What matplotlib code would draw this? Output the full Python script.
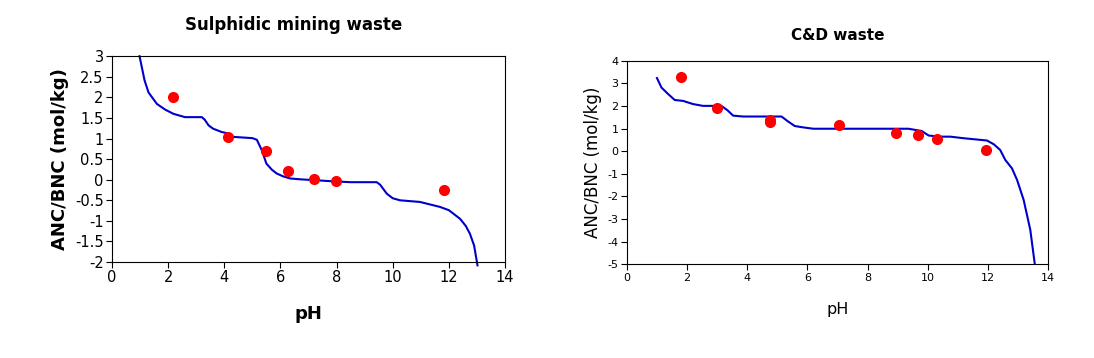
import numpy as np
import matplotlib
matplotlib.use('Agg')
import matplotlib.pyplot as plt

plt.rcParams['axes.unicode_minus'] = False

# Sulphidic mining waste: measured points and model curve
mine_ph = [2.19, 4.14, 5.48, 6.27, 7.21, 7.97, 11.84]
mine_anc = [2.02, 1.03, 0.69, 0.21, 0.02, -0.02, -0.25]
mine_curve_ph = [0.98, 1.16, 1.3, 1.6, 1.9, 2.19, 2.6, 3.2, 3.3, 3.44, 3.6, 3.9, 4.1, 4.33,
                 5.0, 5.16, 5.34, 5.5, 5.7, 5.87, 6.1, 6.35, 6.7, 7.9, 8.5, 9.43, 9.55,
                 9.79, 10.0, 10.26, 10.97, 11.68, 12.0, 12.4, 12.6, 12.75, 12.9, 13.02]
mine_curve_anc = [3.0, 2.41, 2.12, 1.84, 1.7, 1.6, 1.52, 1.52, 1.46, 1.32, 1.24, 1.16, 1.13, 1.04,
                  1.01, 0.97, 0.71, 0.39, 0.24, 0.15, 0.08, 0.03, 0.01, -0.04, -0.06, -0.06, -0.12,
                  -0.34, -0.45, -0.5, -0.54, -0.66, -0.74, -0.95, -1.12, -1.31, -1.6, -2.08]

# C&D waste: measured points and model curve
cd_ph = [1.81, 2.99, 4.76, 4.76, 7.05, 8.96, 9.68, 10.30, 11.95]
cd_anc = [3.28, 1.92, 1.28, 1.38, 1.16, 0.80, 0.73, 0.52, 0.05]
cd_curve_ph = [1.0, 1.15, 1.35, 1.59, 1.87, 2.2, 2.53, 3.14, 3.35, 3.53, 3.86, 5.14, 5.35, 5.58,
               5.86, 6.2, 9.36, 9.8, 10.03, 10.4, 10.75, 11.2, 11.97, 12.2, 12.41, 12.58, 12.8,
               12.97, 13.19, 13.41, 13.56]
cd_curve_anc = [3.23, 2.81, 2.55, 2.26, 2.22, 2.08, 2.0, 2.0, 1.8, 1.57, 1.53, 1.53, 1.32, 1.11,
                1.05, 0.99, 0.99, 0.89, 0.69, 0.64, 0.64, 0.57, 0.47, 0.3, 0.05, -0.39, -0.76,
                -1.27, -2.16, -3.48, -5.0]

fig = plt.figure(figsize=(10.94, 3.58), dpi=100)

# Left panel
ax1 = fig.add_axes([0.1024, 0.268, 0.3592, 0.575])
ax1.plot(mine_curve_ph, mine_curve_anc, color='#0000CC', lw=1.5, clip_on=False)
ax1.plot(mine_ph, mine_anc, 'o', color='#FF0000', markersize=7)
ax1.set_xlim(0, 14)
ax1.set_ylim(-2, 3)
ax1.set_xticks(np.arange(0, 15, 2))
ax1.set_yticks(np.arange(-2, 3.01, 0.5))
ax1.set_yticklabels([('%g' % v) for v in np.arange(-2, 3.01, 0.5)])
ax1.tick_params(direction='out', length=4, labelsize=10.5, colors='black', pad=2)
ax1.set_title('Sulphidic mining waste', fontsize=12, fontweight='bold', pad=19, x=0.462)
ax1.set_xlabel('pH', fontsize=13, fontweight='bold', labelpad=14)
ax1.set_ylabel('ANC/BNC (mol/kg)', fontsize=13, fontweight='bold', labelpad=4)

# Right panel
ax2 = fig.add_axes([0.573, 0.2617, 0.385, 0.569])
ax2.plot(cd_curve_ph, cd_curve_anc, color='#0000CC', lw=1.5)
ax2.plot(cd_ph, cd_anc, 'o', color='#FF0000', markersize=7)
ax2.set_xlim(0, 14)
ax2.set_ylim(-5, 4)
ax2.set_xticks(np.arange(0, 15, 2))
ax2.set_yticks(np.arange(-5, 5, 1))
ax2.tick_params(direction='out', length=4, labelsize=8, colors='black', pad=2)
ax2.set_title('C&D waste', fontsize=11, fontweight='bold', pad=15)
ax2.set_xlabel('pH', fontsize=11.5, labelpad=14)
ax2.set_ylabel('ANC/BNC (mol/kg)', fontsize=12, labelpad=4)

plt.savefig('out.png', dpi=100)
